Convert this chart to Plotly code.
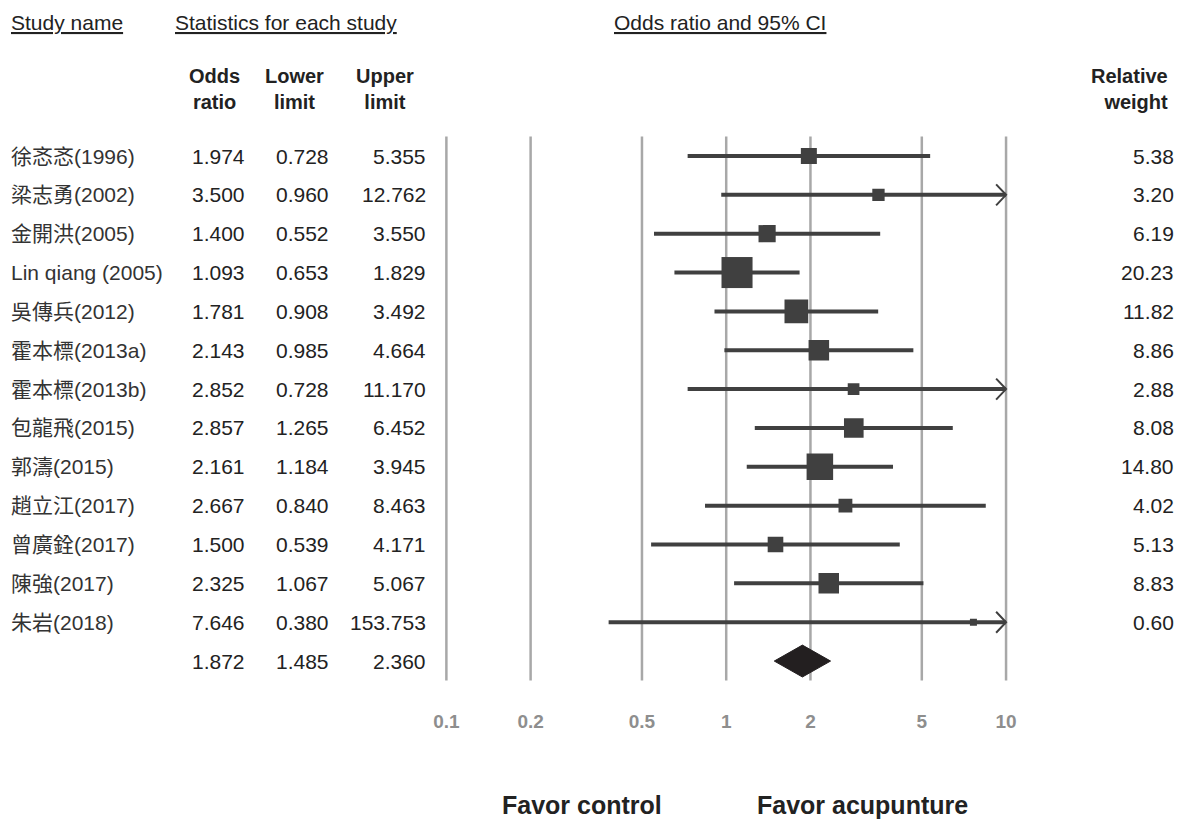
import plotly.graph_objects as go
import math

studies = ["徐忞忞(1996)", "梁志勇(2002)", "金開洪(2005)", "Lin qiang (2005)", "吳傳兵(2012)",
           "霍本標(2013a)", "霍本標(2013b)", "包龍飛(2015)", "郭濤(2015)", "趙立江(2017)",
           "曾廣銓(2017)", "陳強(2017)", "朱岩(2018)"]
odds = [1.974, 3.500, 1.400, 1.093, 1.781, 2.143, 2.852, 2.857, 2.161, 2.667, 1.500, 2.325, 7.646]
lower = [0.728, 0.960, 0.552, 0.653, 0.908, 0.985, 0.728, 1.265, 1.184, 0.840, 0.539, 1.067, 0.380]
upper = [5.355, 12.762, 3.550, 1.829, 3.492, 4.664, 11.170, 6.452, 3.945, 8.463, 4.171, 5.067, 153.753]
weights = [5.38, 3.20, 6.19, 20.23, 11.82, 8.86, 2.88, 8.08, 14.80, 4.02, 5.13, 8.83, 0.60]
summary = {"or": 1.872, "lo": 1.485, "hi": 2.360}
tick_vals = [0.1, 0.2, 0.5, 1, 2, 5, 10]
tick_text = ["0.1", "0.2", "0.5", "1", "2", "5", "10"]
axis_min, axis_max = 0.1, 10

W, H = 1185, 821
FONT = "Liberation Sans, Arial, Noto Sans CJK TC, sans-serif"
TXT = "#222222"
MARK = "#404040"
GRID = "#a8a8a8"

# pixel geometry
row0_px, row_step = 156, 38.85
x_lo_px, x_hi_px = 444, 1007
ppd = (x_hi_px - x_lo_px) / (math.log10(axis_max) - math.log10(axis_min))
pad = 0.03
dom_l = (x_lo_px - pad * ppd) / W
dom_r = (x_hi_px + pad * ppd) / W
axis_bottom_px = 708
y_top = -row0_px / row_step
y_bot = (axis_bottom_px - row0_px) / row_step

n = len(studies)
rows = list(range(n))
sum_row = n

fig = go.Figure()

# CI lines
xs, ys = [], []
for i in rows:
    xs += [lower[i], min(upper[i], axis_max), None]
    ys += [i, i, None]
fig.add_trace(go.Scatter(x=xs, y=ys, mode="lines", line=dict(color=MARK, width=4),
                         hoverinfo="skip", showlegend=False))

# arrows for CI beyond axis
ax, ay = [], []
f = 10 ** (10 / ppd)
for i in rows:
    if upper[i] > axis_max:
        ax += [axis_max / f, axis_max, axis_max / f, None]
        ay += [i - 0.27, i, i + 0.27, None]
fig.add_trace(go.Scatter(x=ax, y=ay, mode="lines", line=dict(color=MARK, width=2),
                         hoverinfo="skip", showlegend=False))

# squares
sizes = [max(6.9 * math.sqrt(w), 7) for w in weights]
fig.add_trace(go.Scatter(x=odds, y=rows, mode="markers",
                         marker=dict(symbol="square", size=sizes, color=MARK, opacity=1,
                                     line=dict(width=0)),
                         showlegend=False))

# summary diamond
dh = 0.41
fig.add_trace(go.Scatter(x=[summary["lo"], summary["or"], summary["hi"], summary["or"], summary["lo"]],
                         y=[sum_row, sum_row - dh, sum_row, sum_row + dh, sum_row],
                         mode="lines", fill="toself", fillcolor="#231f20",
                         line=dict(color="#231f20", width=1), showlegend=False))

# grid lines
shapes = []
for t in tick_vals:
    shapes.append(dict(type="line", xref="x", yref="y", x0=t, x1=t, y0=-0.5, y1=sum_row + 0.5,
                       line=dict(color=GRID, width=2.5), layer="below"))
fig.update_layout(shapes=shapes)

ann = []
def A(text, xpx, y, anchor="left", yref="y", size=21, color=TXT, bold=False):
    if bold:
        text = "<b>" + text + "</b>"
    if anchor == "left":
        xpx -= 6
    else:
        xpx -= 2
    ann.append(dict(text=text, x=xpx / W, xref="paper", y=y, yref=yref, xanchor=anchor,
                    yanchor="middle", showarrow=False, font=dict(family=FONT, size=size, color=color),
                    align={"left": "left", "right": "right", "center": "center"}[anchor]))

def py(px):
    return 1 - px / H

# headers
A("<u>Study name</u>", 10, py(22), yref="paper")
A("<u>Statistics for each study</u>", 175, py(22), yref="paper")
A("<u>Odds ratio and 95% CI</u>", 617, py(22), yref="paper")
A("Odds<br>ratio", 213, py(89), anchor="center", yref="paper", size=20, bold=True)
A("Lower<br>limit", 293, py(89), anchor="center", yref="paper", size=20, bold=True)
A("Upper<br>limit", 384, py(89), anchor="center", yref="paper", size=20, bold=True)
A("Relative<br>weight", 1174, py(89), anchor="right", yref="paper", size=20, bold=True)

for i in rows:
    A(studies[i], 10, i, color="#333333")
    A(f"{odds[i]:.3f}", 245, i, anchor="right")
    A(f"{lower[i]:.3f}", 330, i, anchor="right")
    A(f"{upper[i]:.3f}", 428, i, anchor="right")
    A(f"{weights[i]:.2f}", 1180, i, anchor="right")
A(f"{summary['or']:.3f}", 245, sum_row, anchor="right")
A(f"{summary['lo']:.3f}", 330, sum_row, anchor="right")
A(f"{summary['hi']:.3f}", 428, sum_row, anchor="right")

A("Favor control", 582, py(805), anchor="center", yref="paper", size=25, bold=True)
A("Favor acupunture", 865, py(805), anchor="center", yref="paper", size=25, bold=True)

fig.update_layout(
    annotations=ann,
    width=W, height=H,
    margin=dict(l=0, r=0, t=0, b=0),
    paper_bgcolor="white", plot_bgcolor="white",
    xaxis=dict(type="log", range=[math.log10(axis_min) - pad, math.log10(axis_max) + pad],
               domain=[dom_l, dom_r], tickvals=tick_vals,
               ticktext=["<b>" + t + "</b>" for t in tick_text],
               showgrid=False, zeroline=False, showline=False, ticks="",
               tickfont=dict(family=FONT, size=19, color="#8e8e8e")),
    yaxis=dict(range=[y_bot, y_top], domain=[1 - axis_bottom_px / H, 1], visible=False,
               showgrid=False, zeroline=False),
)

fig.write_html("out.html", config={"displayModeBar": False},
               post_script="document.body.style.margin='0px';")
